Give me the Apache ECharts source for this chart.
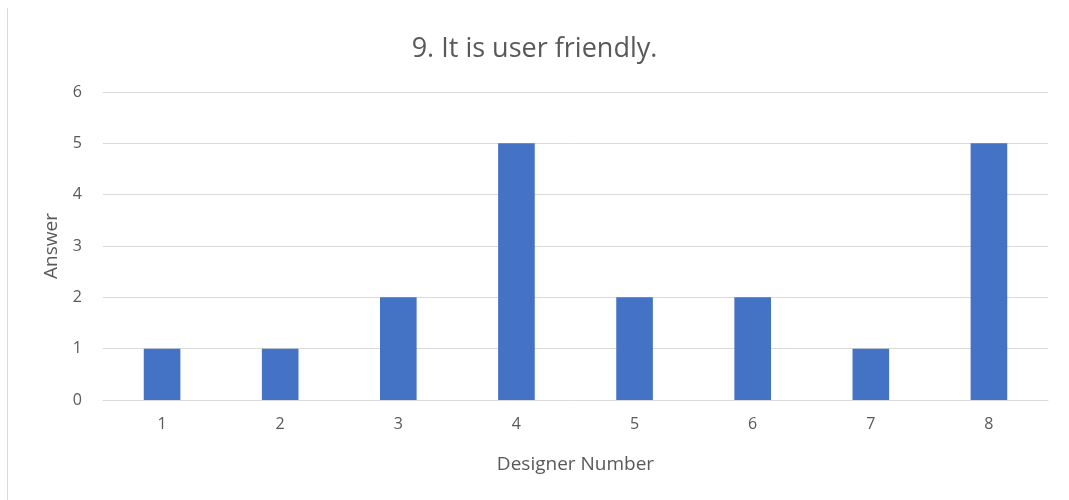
<!DOCTYPE html>
<html>
<head>
<meta charset="utf-8">
<style>
  html, body { margin: 0; padding: 0; background: #fff; }
  #chart { width: 1069px; height: 500px; }
</style>
<script src="https://cdn.jsdelivr.net/npm/echarts@6/dist/echarts.min.js"></script>
</head>
<body>
<div id="chart"></div>
<script>
const titleText = '9. It is user friendly.';
const designers = ['1', '2', '3', '4', '5', '6', '7', '8'];
const answers = [1, 1, 2, 5, 2, 2, 1, 5];
const yTicks = [0, 1, 2, 3, 4, 5, 6];
const xAxisName = 'Designer Number';
const yAxisName = 'Answer';

const textColor = '#595959';
const fontFamily = '"Open Sans", "Liberation Sans", sans-serif';

const chart = echarts.init(document.getElementById('chart'), null, { renderer: 'canvas' });
chart.setOption({
  backgroundColor: '#ffffff',
  animation: false,
  title: {
    text: titleText,
    left: 'center',
    top: 31,
    textStyle: { fontFamily, fontSize: 27, fontWeight: 'normal', color: textColor }
  },
  graphic: [{
    type: 'line',
    shape: { x1: 7.5, y1: 8, x2: 7.5, y2: 500 },
    style: { stroke: '#d9d9d9', lineWidth: 1 }
  }],
  grid: { left: 103, right: 21, top: 92, bottom: 100, containLabel: false },
  xAxis: {
    type: 'category',
    data: designers,
    name: xAxisName,
    nameLocation: 'middle',
    nameGap: 55,
    nameTextStyle: { fontFamily, fontSize: 19, color: textColor },
    axisLine: { show: true, lineStyle: { color: '#d9d9d9', width: 1 } },
    axisTick: { show: false },
    axisLabel: { fontFamily, fontSize: 16, color: textColor, margin: 16 }
  },
  yAxis: {
    type: 'value',
    min: yTicks[0],
    max: yTicks[yTicks.length - 1],
    interval: 1,
    name: yAxisName,
    nameLocation: 'middle',
    nameGap: 42,
    nameRotate: 90,
    nameTextStyle: { fontFamily, fontSize: 19, color: textColor },
    axisLine: { show: false },
    axisTick: { show: false },
    axisLabel: { fontFamily, fontSize: 16, color: textColor, margin: 21 },
    splitLine: { lineStyle: { color: '#d9d9d9', width: 1 } }
  },
  series: [{
    type: 'bar',
    data: answers,
    barWidth: '31%',
    itemStyle: { color: '#4472C4' }
  }]
});
</script>
</body>
</html>
